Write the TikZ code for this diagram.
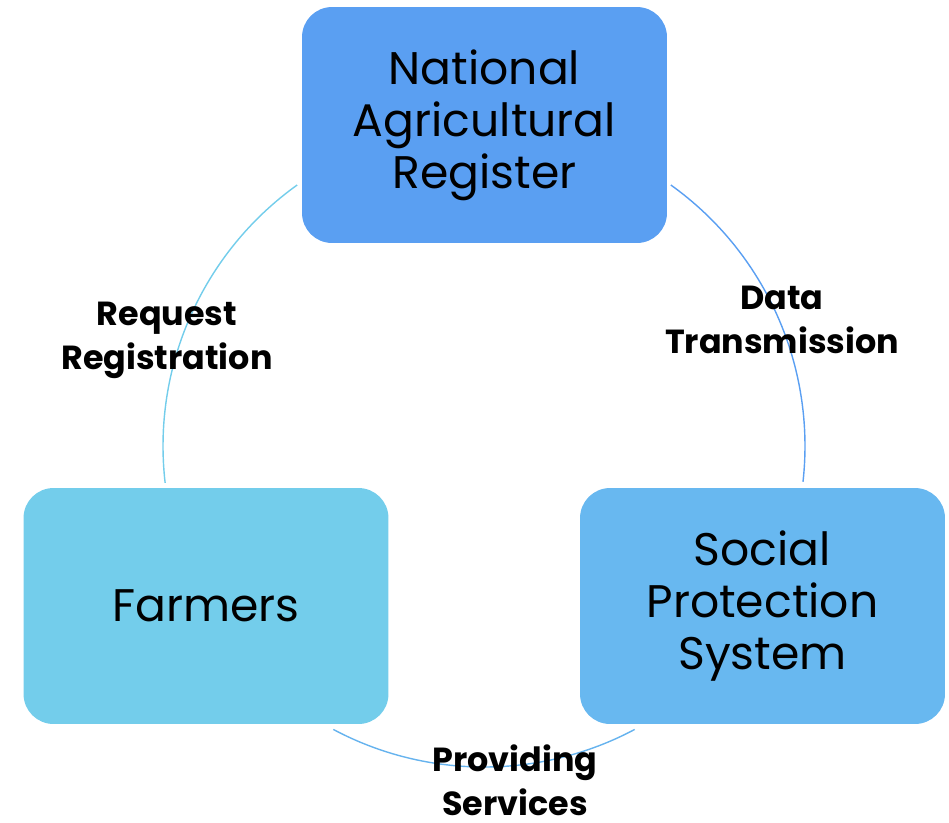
\documentclass[tikz,border=0pt]{standalone}
\usepackage{fontspec}
\setmainfont{Poppins}
\usepackage{xcolor}
\definecolor{regblue}{HTML}{5A9FF2}
\definecolor{farmcyan}{HTML}{73CDEB}
\definecolor{socblue}{HTML}{68B8F0}
\definecolor{arcmid}{HTML}{66B3EE}
\tikzset{
  box/.style={rounded corners=0.6cm, minimum width=7.3cm, minimum height=4.72cm,
    align=center, font=\fontsize{26}{29.6}\selectfont, text=black, inner sep=0pt},
  flowlabel/.style={align=center, font=\fontsize{19}{25}\selectfont\bfseries, text=black, inner sep=0.5pt},
  flow/.style={line width=0.8pt}
}
\begin{document}
\begin{tikzpicture}[x=0.02cm,y=0.02cm]
			\useasboundingbox (0,0) rectangle (949,-822);
			% Kästen
			\node[box, fill=regblue] (reg) at (484.5,-125) {National\\Agricultural\\Register};
			\node[box, fill=farmcyan] (farm) at (206,-606) {Farmers};
			\node[box, fill=socblue] (soc) at (762.5,-606) {Social\\Protection\\System};
			% Kreisbögen
			\coordinate (ctr) at (484,-446);
			\draw[flow, farmcyan] ([shift={(125.6:321)}]ctr) arc[start angle=125.6, end angle=186.6, radius=321];
			\draw[flow, regblue] ([shift={(54.4:321)}]ctr) arc[start angle=54.4, end angle=-6.4, radius=321];
			\draw[flow, arcmid] ([shift={(242:321)}]ctr) arc[start angle=242, end angle=298, radius=321];
			% Beschriftungen
			\node[flowlabel] (req) at (167,-340) {Request\\Registration};
			\node[flowlabel] (data) at (782,-320) {Data\\Transmission};
			\node[flowlabel] (prov) at (515,-780) {Providing\\Services};
		\end{tikzpicture}
\end{document}
